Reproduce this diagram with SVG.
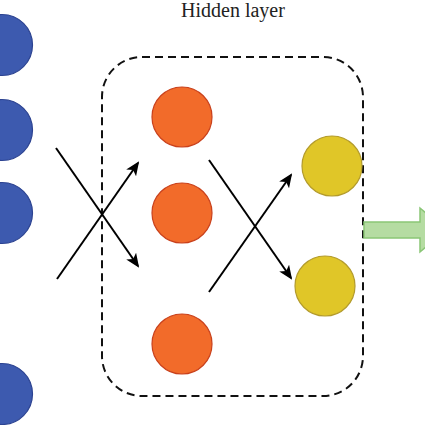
<svg xmlns="http://www.w3.org/2000/svg" width="425" height="425" viewBox="0 0 425 425">
<style>
.in{fill:#3d5aaf;stroke:#2c4391;stroke-width:1.2}
.hid{fill:#f26b2a;stroke:#c9411c;stroke-width:1.2}
.out{fill:#e0c628;stroke:#b39b2c;stroke-width:1.2}
.box{fill:none;stroke:#111;stroke-width:2;stroke-dasharray:8 5}
.ar{fill:none;stroke:#000;stroke-width:2;marker-end:url(#ah)}
.ln{fill:none;stroke:#000;stroke-width:2}
.lbl{font-family:"Liberation Serif",serif;font-size:20px;fill:#222}
</style>
<defs>
<marker id="ah" viewBox="0 0 14 12" refX="12" refY="6" markerWidth="7" markerHeight="6" orient="auto" markerUnits="strokeWidth">
<path d="M0,0 L14,6 L0,12 L3.5,6 Z" fill="#000"/>
</marker>
</defs>
<rect width="425" height="425" fill="#fff"/>
<text class="lbl" x="233" y="17" text-anchor="middle">Hidden layer</text>
<g id="input">
<circle id="in1" class="in" cx="2" cy="45" r="30.5"/>
<circle id="in2" class="in" cx="2" cy="130" r="30.5"/>
<circle id="in3" class="in" cx="2" cy="213" r="30.5"/>
<circle id="in4" class="in" cx="2" cy="394" r="30.5"/>
</g>
<g id="hidden-layer">
<rect class="box" x="102" y="57" width="261" height="339" rx="40" ry="40"/>
</g>
<g id="hidden">
<circle id="h1" class="hid" cx="182" cy="117" r="30"/>
<circle id="h2" class="hid" cx="182" cy="213" r="30"/>
<circle id="h3" class="hid" cx="182" cy="344" r="30"/>
</g>
<g id="output">
<circle id="o1" class="out" cx="332" cy="166" r="30"/>
<circle id="o2" class="out" cx="325" cy="286" r="30"/>
</g>
<g id="connectors">
<line class="ar" x1="56" y1="148" x2="138" y2="266"/>
<line class="ar" x1="57" y1="279" x2="138" y2="163"/>
<line class="ar" x1="209" y1="160" x2="291" y2="278"/>
<line class="ar" x1="209" y1="292" x2="291" y2="175"/>
</g>
<g id="result-arrow">
<polygon points="364,222 420,222 420,208 446,230 420,252 420,238 364,238" fill="#b5dca2" stroke="#8ac676" stroke-width="1.5"/>
</g>
</svg>
